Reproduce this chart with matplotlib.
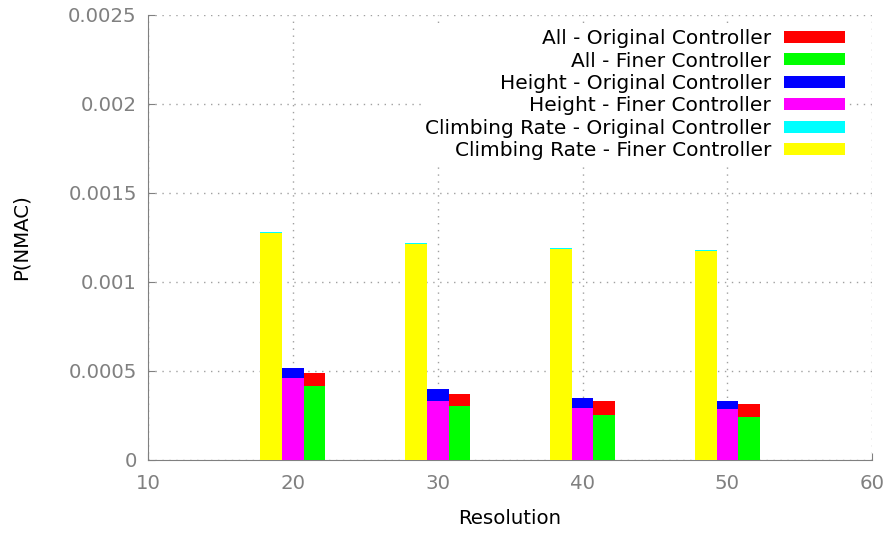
import matplotlib.pyplot as plt
import numpy as np

# resolutions and P(NMAC) per controller / constraint
resolution = np.array([20, 30, 40, 50])
all_orig = [0.000490, 0.000371, 0.000328, 0.000313]
all_finer = [0.000417, 0.000300, 0.000253, 0.000238]
height_orig = [0.000517, 0.000397, 0.000348, 0.000328]
height_finer = [0.000457, 0.000333, 0.000292, 0.000287]
climb_orig = [0.001280, 0.001220, 0.001190, 0.001180]
climb_finer = [0.001275, 0.001213, 0.001185, 0.001176]

fig = plt.figure(figsize=(8.91, 5.34), dpi=100)
ax = fig.add_axes([0.166, 0.139, 0.813, 0.833])

w = 1.5
h = {}
# climbing rate (left), height (middle), all (right); original behind finer
h["cro"] = ax.bar(resolution - w, climb_orig, w, color="#00ffff", zorder=3)
h["crf"] = ax.bar(resolution - w, climb_finer, w, color="#ffff00", zorder=4)
h["ho"] = ax.bar(resolution, height_orig, w, color="#0000ff", zorder=3)
h["hf"] = ax.bar(resolution, height_finer, w, color="#ff00ff", zorder=4)
h["ao"] = ax.bar(resolution + w, all_orig, w, color="#ff0000", zorder=3)
h["af"] = ax.bar(resolution + w, all_finer, w, color="#00ff00", zorder=4)

ax.set_xlim(10, 60)
ax.set_ylim(0, 0.0025)
ax.set_xticks([10, 20, 30, 40, 50, 60])
ax.set_yticks([0, 0.0005, 0.001, 0.0015, 0.002, 0.0025])
ax.set_yticklabels(["0", "0.0005", "0.001", "0.0015", "0.002", "0.0025"])

gray = "#808080"
ax.grid(True, linestyle=(0, (1, 4)), color="#a0a0a0", linewidth=1.0, zorder=0)
for s in ["top", "right"]:
    ax.spines[s].set_visible(False)
for s in ["left", "bottom"]:
    ax.spines[s].set_color(gray)
ax.tick_params(direction="in", colors=gray, labelsize=14.2, length=5, pad=8)
ax.tick_params(axis="x", pad=10)

ax.set_xlabel("Resolution", fontsize=14.2, labelpad=12)
ax.set_ylabel("P(NMAC)", fontsize=14.2, labelpad=27)

labels = ["All - Original Controller", "All - Finer Controller",
          "Height - Original Controller", "Height - Finer Controller",
          "Climbing Rate - Original Controller", "Climbing Rate - Finer Controller"]
handles = [h["ao"], h["af"], h["ho"], h["hf"], h["cro"], h["crf"]]
leg = ax.legend(handles, labels, loc="upper right", markerfirst=False,
                bbox_to_anchor=(1 - 3 / 724, 1 + 10 / 445),
                fontsize=14.5, frameon=True, framealpha=1.0, edgecolor="none",
                fancybox=False, handlelength=3.05, handleheight=0.55,
                labelspacing=0.17, borderaxespad=1.0, handletextpad=0.63,
                borderpad=0.2)
for t in leg.get_texts():
    t.set_ha("right")
leg.set_zorder(5)

fig.savefig("out.png", dpi=100)
